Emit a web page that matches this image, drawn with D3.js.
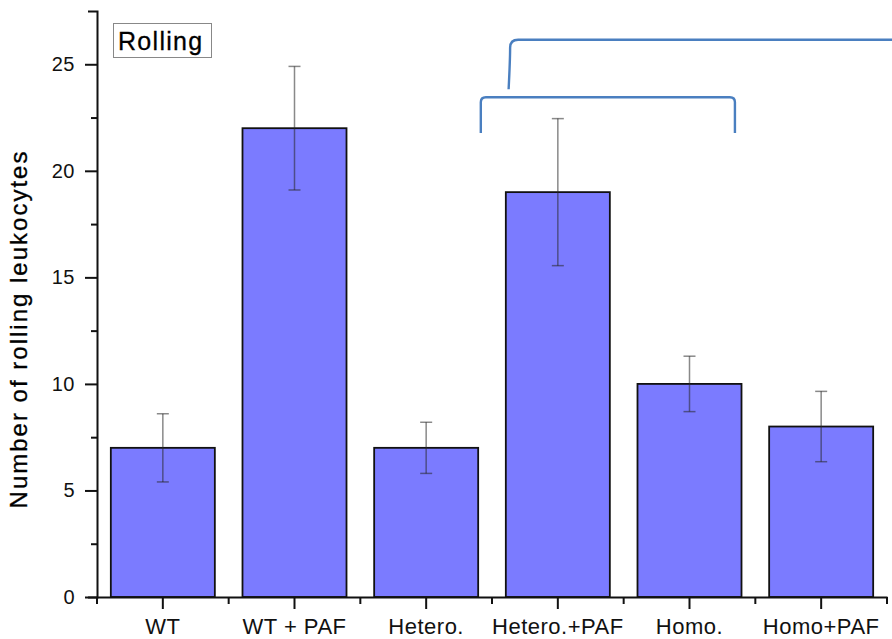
<!DOCTYPE html>
<html>
<head>
<meta charset="utf-8">
<script src="https://cdn.jsdelivr.net/npm/d3@7/dist/d3.min.js"></script>
<style>
  html, body { margin: 0; padding: 0; background: #fff; }
  svg { display: block; font-family: "Liberation Sans", Arial, sans-serif; }
</style>
</head>
<body>
<svg id="chart" width="892" height="639"></svg>
<script>
// Groups and their mean rolling counts with error (±)
const categories = ["WT", "WT + PAF", "Hetero.", "Hetero.+PAF", "Homo.", "Homo+PAF"];
const values = [7, 22, 7, 19, 10, 8];
const errors = [1.6, 2.9, 1.2, 3.45, 1.3, 1.65];
const majorTicks = [0, 5, 10, 15, 20, 25];
const minorTicks = [2.5, 7.5, 12.5, 17.5, 22.5];

// Comparison brackets: category anchors with offsets in band steps, heights in data units
const lowerBracket = { from: "Hetero.+PAF", fromOff: -0.585, to: "Homo.", toOff: 0.345, top: 23.45, foot: 21.78 };
const upperBracket = { from: "Hetero.+PAF", fromOff: -0.37, to: "Homo+PAF", toOff: 0.56, top: 26.15, foot: 23.83 };

const svg = d3.select("#chart");

const x = d3.scaleBand()
  .domain(categories)
  .range([97, 887])
  .paddingInner(0.21)
  .paddingOuter(0.105);

const y = d3.scaleLinear()
  .domain([0, 27.5])
  .range([597, 11]);

const center = c => x(c) + x.bandwidth() / 2;

// Bars
svg.append("g")
  .selectAll("rect")
  .data(categories)
  .join("rect")
  .attr("x", d => x(d))
  .attr("y", (d, i) => y(values[i]))
  .attr("width", x.bandwidth())
  .attr("height", (d, i) => y(0) - y(values[i]))
  .attr("fill", "#7b7bff")
  .attr("stroke", "#111")
  .attr("stroke-width", 1.8);

// Error bars
const eb = svg.append("g")
  .attr("stroke", "rgba(40,40,40,0.55)")
  .attr("stroke-width", 1.5)
  .attr("fill", "none");
categories.forEach((c, i) => {
  const cx = center(c);
  const hi = y(values[i] + errors[i]);
  const lo = y(values[i] - errors[i]);
  eb.append("line").attr("x1", cx).attr("x2", cx).attr("y1", hi).attr("y2", lo);
  eb.append("line").attr("x1", cx - 6).attr("x2", cx + 6).attr("y1", hi).attr("y2", hi);
  eb.append("line").attr("x1", cx - 6).attr("x2", cx + 6).attr("y1", lo).attr("y2", lo);
});

// Y axis (major + minor ticks)
const yAxis = svg.append("g")
  .attr("transform", "translate(97,0)")
  .call(d3.axisLeft(y).tickValues(majorTicks).tickSize(12).tickSizeOuter(9).tickPadding(10).tickFormat(d3.format("d")));
yAxis.selectAll("path, line").attr("stroke", "#111").attr("stroke-width", 2);
yAxis.selectAll("text").attr("font-size", 20).attr("fill", "#111").attr("letter-spacing", 0.5)
  .attr("font-family", "'Liberation Sans', Arial, sans-serif");

const yMinor = svg.append("g")
  .attr("transform", "translate(97,0)")
  .call(d3.axisLeft(y).tickValues(minorTicks).tickSize(6).tickFormat(""));
yMinor.select(".domain").remove();
yMinor.selectAll("line").attr("stroke", "#111").attr("stroke-width", 2);

// X axis (category ticks + boundary ticks)
const xAxis = svg.append("g")
  .attr("transform", `translate(0,${y(0)})`)
  .call(d3.axisBottom(x).tickSize(12).tickSizeOuter(0).tickPadding(9));
xAxis.selectAll("path, line").attr("stroke", "#111").attr("stroke-width", 2);
xAxis.selectAll("text").attr("font-size", 22).attr("fill", "#111").attr("letter-spacing", 0.5)
  .attr("font-family", "'Liberation Sans', Arial, sans-serif");

const gap = x.step() * x.paddingInner() / 2;
const boundaries = categories.map(c => x(c) - gap).concat([x(categories[categories.length - 1]) + x.bandwidth() + gap]);
svg.append("g")
  .selectAll("line")
  .data(boundaries)
  .join("line")
  .attr("x1", d => d).attr("x2", d => d)
  .attr("y1", y(0)).attr("y2", y(0) + 7)
  .attr("stroke", "#111").attr("stroke-width", 2);

// Y axis title
svg.append("text")
  .attr("transform", `translate(27,${(y(0) + y(27.5)) / 2 + 25}) rotate(-90)`)
  .attr("text-anchor", "middle")
  .attr("font-size", 24)
  .attr("letter-spacing", 2)
  .attr("fill", "#000")
  .attr("stroke", "#000")
  .attr("stroke-width", 0.3)
  .text("Number of rolling leukocytes");

// Panel label
svg.append("rect")
  .attr("x", 113.5).attr("y", 23.5).attr("width", 98).attr("height", 34)
  .attr("fill", "#fff").attr("stroke", "#888").attr("stroke-width", 1);
svg.append("text")
  .attr("x", 118).attr("y", 50)
  .attr("font-size", 25)
  .attr("letter-spacing", 1.3)
  .attr("fill", "#000")
  .attr("stroke", "#000")
  .attr("stroke-width", 0.3)
  .text("Rolling");

// Brackets
const bracketColor = "#4a7fc0";
{
  const b = lowerBracket;
  const x0 = center(b.from) + b.fromOff * x.step();
  const x1 = center(b.to) + b.toOff * x.step();
  const yt = y(b.top), yf = y(b.foot), r = 5;
  svg.append("path")
    .attr("d", `M${x0},${yf} L${x0},${yt + r} Q${x0},${yt} ${x0 + r},${yt} L${x1 - r},${yt} Q${x1},${yt} ${x1},${yt + r} L${x1},${yf}`)
    .attr("fill", "none").attr("stroke", bracketColor).attr("stroke-width", 2.4);
}
{
  const b = upperBracket;
  const x0 = center(b.from) + b.fromOff * x.step();
  const x1 = center(b.to) + b.toOff * x.step();
  const yt = y(b.top), yf = y(b.foot), r = 8;
  svg.append("path")
    .attr("d", `M${x0 - 0.5},${yf} Q${x0 + 1},${yt + 20} ${x0 + 1},${yt + r} Q${x0 + 1},${yt} ${x0 + r + 1},${yt} L${x1},${yt}`)
    .attr("fill", "none").attr("stroke", bracketColor).attr("stroke-width", 2.4);
}
</script>
</body>
</html>
